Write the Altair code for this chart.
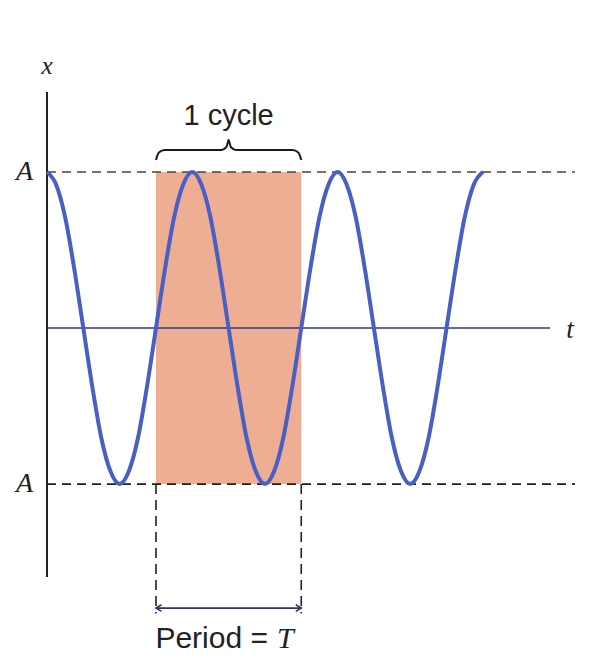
import altair as alt
import pandas as pd

# --- data (units: t in periods T, x in amplitudes A) ---
cycle_vals = [1, 0.92, 0.71, 0.38, 0, -0.38, -0.71, -0.92,
              -1, -0.92, -0.71, -0.38, 0, 0.38, 0.71, 0.92]
n_cycles = 3
curve_t = [i / 16 for i in range(16 * n_cycles + 1)]
curve_x = cycle_vals * n_cycles + [1]

period_start = 0.75
period_end = 1.75
amp = 1.0

W, H = 585, 655
XDOM = [-0.2684, 3.758]
YDOM = [-2.147, 2.051]
xs = alt.Scale(domain=XDOM, nice=False, zero=False)
ys = alt.Scale(domain=YDOM, nice=False, zero=False)

def X(f="t", **k):
    return alt.X(f, type="quantitative", scale=xs, axis=None, **k)

def Y(f="y", **k):
    return alt.Y(f, type="quantitative", scale=ys, axis=None, **k)

curve_df = pd.DataFrame({"t": curve_t, "y": curve_x})

shade = alt.Chart(pd.DataFrame({"t": [period_start], "t2": [period_end], "y": [-amp], "y2": [amp]})).mark_rect(
    color="#ECAA8E", opacity=0.95).encode(x=X(), x2="t2", y=Y(), y2="y2")

ampl_lines = alt.Chart(pd.DataFrame({"t": [0, 0], "t2": [3.634, 3.634], "y": [amp, -amp], "c": ["#4a4438", "#1e1e1e"]})).mark_rule(
    strokeWidth=1.7, strokeDash=[9, 6]).encode(x=X(), x2="t2", y=Y(), color=alt.Color("c:N", scale=None))

v_axis = alt.Chart(pd.DataFrame({"t": [0], "y": [-1.596], "y2": [1.513]})).mark_rule(
    color="#222222", strokeWidth=2).encode(x=X(), y=Y(), y2="y2")

h_axis = alt.Chart(pd.DataFrame({"t": [0], "t2": [3.462], "y": [0]})).mark_rule(
    color="#2B3A85", strokeWidth=1.6).encode(x=X(), x2="t2", y=Y())

v_dash = alt.Chart(pd.DataFrame({"t": [period_start, period_end], "y": [-amp, -amp], "y2": [-1.83, -1.83]})).mark_rule(
    color="#222222", strokeWidth=1.6, strokeDash=[10, 6]).encode(x=X(), y=Y(), y2="y2")

arrow_y = -1.795
arrow = alt.Chart(pd.DataFrame({"t": [period_start], "t2": [period_end], "y": [arrow_y]})).mark_rule(
    color="#2D3470", strokeWidth=1.6).encode(x=X(), x2="t2", y=Y())

head_r = alt.Chart(pd.DataFrame({"t": [period_end], "y": [arrow_y]})).mark_point(
    shape="M -1 -0.6 L 0 0 L -1 0.6", filled=False, stroke="#2D3470", strokeWidth=1.6, size=120, opacity=1
).encode(x=X(), y=Y())
head_l = alt.Chart(pd.DataFrame({"t": [period_start], "y": [arrow_y]})).mark_point(
    shape="M 1 -0.6 L 0 0 L 1 0.6", filled=False, stroke="#2D3470", strokeWidth=1.6, size=120, opacity=1
).encode(x=X(), y=Y())

# brace above one cycle
mid = (period_start + period_end) / 2
brace_t = [period_start, period_start + 0.02, period_start + 0.06, mid - 0.05, mid - 0.015, mid,
           mid + 0.015, mid + 0.05, period_end - 0.06, period_end - 0.02, period_end]
brace_y = [1.077, 1.125, 1.141, 1.141, 1.16, 1.205, 1.16, 1.141, 1.141, 1.125, 1.077]
brace = alt.Chart(pd.DataFrame({"t": brace_t, "y": brace_y, "o": list(range(len(brace_t)))})).mark_line(
    color="#1a1a1a", strokeWidth=2, interpolate="monotone").encode(x=X(), y=Y(), order="o")

curve = alt.Chart(curve_df).mark_line(
    color="#4A5FC4", strokeWidth=4, interpolate="cardinal").encode(x=X(), y=Y())

serif = "Liberation Serif"
sans = "Liberation Sans"

def txt(t, y, s, font, size, align="center", baseline="middle", italic=False, color="#222222"):
    return alt.Chart(pd.DataFrame({"t": [t], "y": [y], "s": [s]})).mark_text(
        font=font, fontSize=size, align=align, baseline=baseline,
        fontStyle="italic" if italic else "normal", color=color).encode(x=X(), y=Y(), text="s")

texts = [
    txt(0.0, 1.68, "x", serif, 25, italic=True),
    txt(3.6, -0.01, "t", serif, 27, italic=True),
    txt(-0.095, amp, "A", serif, 28, align="right", italic=True),
    txt(-0.095, -amp, "A", serif, 28, align="right", italic=True),
    txt(mid, 1.301, "1 cycle", sans, 29, baseline="alphabetic"),
    txt(1.521, -2.051, "Period =", sans, 30, align="right", baseline="alphabetic"),
    txt(1.583, -2.051, "T", serif, 30, align="left", baseline="alphabetic", italic=True),
]

chart = alt.layer(shade, ampl_lines, v_axis, h_axis, v_dash, arrow, head_l, head_r, brace, curve, *texts).properties(
    width=W, height=H, autosize=alt.AutoSizeParams(type="none"), padding=0, background="white"
).configure_view(stroke=None)

chart.save("out.html", embed_options={"renderer": "svg", "actions": False})
